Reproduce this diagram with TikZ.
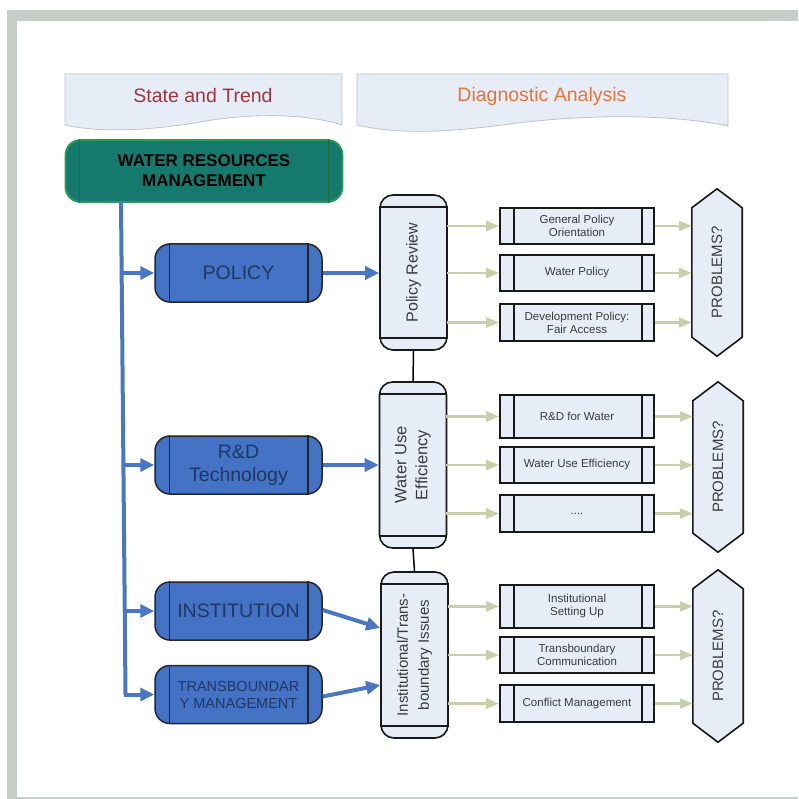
\documentclass[tikz,border=0pt]{standalone}
\usepackage{fontspec}
\setmainfont{Liberation Sans}
\usetikzlibrary{arrows.meta,calc}
\definecolor{pale}{HTML}{E7EDF7}
\definecolor{framegrey}{HTML}{C7CEC9}
\definecolor{hdrline}{HTML}{BFC3C8}
\definecolor{trendred}{HTML}{A0353D}
\definecolor{diagorange}{HTML}{E8733A}
\definecolor{teal}{HTML}{157A6D}
\definecolor{tealline}{HTML}{2A9A55}
\definecolor{tealinner}{HTML}{1E6B3F}
\definecolor{boxblue}{HTML}{4472C4}
\definecolor{navy}{HTML}{1F3864}
\definecolor{lineblue}{HTML}{4A77C3}
\definecolor{olive}{HTML}{C6D0AA}
\definecolor{txtgrey}{HTML}{3A3A3A}
\tikzset{
  hdr/.style={fill=pale, draw=hdrline, line width=0.8pt},
  wrmbox/.style={draw=tealline, fill=teal, line width=1.8pt, rounded corners=15pt,
    minimum width=277pt, minimum height=62pt, align=center,
    font=\fontsize{17}{20}\selectfont\bfseries, text=black},
  bluebox/.style={draw=black!85, fill=boxblue, line width=1.5pt, rounded corners=15pt,
    minimum width=167pt, minimum height=58pt, align=center, text=navy},
  vcyl/.style={draw=black!90, fill=pale, line width=1.6pt, rounded corners=13pt,
    minimum width=67pt},
  vtext/.style={rotate=90, align=center, text=txtgrey},
  mbox/.style={draw=black!90, fill=pale, line width=1.8pt, minimum width=154pt,
    align=center, text=txtgrey, font=\fontsize{11.5}{13}\selectfont},
  hexfr/.style={draw=none, minimum width=50pt, inner sep=0pt},
  hexshape/.style={draw=black!90, fill=pale, line width=1.6pt},
  hextext/.style={rotate=90, text=txtgrey, font=\fontsize{15}{17}\selectfont},
  inner/.style={line width=1.5pt},
  barrow/.style={draw=lineblue, line width=4pt, -{Triangle[length=14pt,width=13pt]}},
  bline/.style={draw=lineblue, line width=4pt},
  garrow/.style={draw=olive, line width=2.5pt, -{Triangle[length=13pt,width=10pt]}},
}
\begin{document}
\begin{tikzpicture}[x=1pt,y=-1pt]
\useasboundingbox (0,0) rectangle (798,799);
\fill[white] (0,0) rectangle (798,799);
% frame
\fill[framegrey] (7,10) rectangle (798,21);
\fill[framegrey] (7,10) rectangle (17,799);
\fill[framegrey] (7,797) rectangle (798,799);

% headers
\filldraw[hdr] (65,74) -- (342,74) -- (342,125) .. controls (300,112) and (245,114) .. (200,122)
  .. controls (160,129) and (105,134) .. (65,125) -- cycle;
\node[font=\fontsize{19.5}{22}\selectfont, text=trendred] (hst) at (203,96) {State and Trend};
\filldraw[hdr] (357,74) -- (728,74) -- (728,126) .. controls (660,112) and (570,116) .. (510,124)
  .. controls (450,132) and (400,135) .. (357,125) -- cycle;
\node[font=\fontsize{19.5}{22}\selectfont, text=diagorange] (hda) at (542,96) {Diagnostic Analysis};

% water resources management
\node[wrmbox] (wrm) at (204,171) {WATER RESOURCES\\MANAGEMENT};
\draw[tealinner, line width=1.5pt] ([xshift=15pt]wrm.north west) -- ([xshift=15pt]wrm.south west);
\draw[tealinner, line width=1.5pt] ([xshift=-15pt]wrm.north east) -- ([xshift=-15pt]wrm.south east);

% blue boxes
\node[bluebox, font=\fontsize{19.5}{23}\selectfont] (policy) at (238.5,273) {POLICY};
\node[bluebox, font=\fontsize{19.5}{23}\selectfont] (rd) at (238.5,465) {R\&D\\Technology};
\node[bluebox, font=\fontsize{19.5}{23}\selectfont] (inst) at (238.5,611) {INSTITUTION};
\node[bluebox, font=\fontsize{14.5}{17}\selectfont] (trans) at (238.5,694.5) {TRANSBOUNDAR\\Y MANAGEMENT};
\foreach \n in {policy,rd,inst,trans}{
  \draw[inner, black!85] ([xshift=15pt]\n.north west) -- ([xshift=15pt]\n.south west);
  \draw[inner, black!85] ([xshift=-15pt]\n.north east) -- ([xshift=-15pt]\n.south east);
}

% trunk and branches
\coordinate (t0) at (121,202);
\coordinate (t1) at (125.5,694.5);
\coordinate (b1) at (122,273);
\coordinate (b2) at (123.8,465);
\coordinate (b3) at (125,611);
\draw[bline] (t0) -- (t1);
\draw[barrow] (b1) -- (policy.west);
\draw[barrow] (b2) -- (rd.west);
\draw[barrow] (b3) -- (inst.west);
\draw[barrow] ([xshift=-2pt]t1) -- (trans.west);

% vertical cylinders
\node[vcyl, minimum height=155pt] (pr) at (413.5,272.5) {};
\node[vcyl, minimum height=166pt] (wue) at (413,465) {};
\node[vcyl, minimum height=166pt] (iti) at (414.5,655) {};
\foreach \n in {pr,wue,iti}{
  \draw[inner, black!90] ([yshift=-13pt]\n.north west) -- ([yshift=-13pt]\n.north east);
  \draw[inner, black!90] ([yshift=13pt]\n.south west) -- ([yshift=13pt]\n.south east);
}
\node[vtext, font=\fontsize{16}{20}\selectfont] (prt) at (pr.center) {Policy Review};
\node[vtext, font=\fontsize{16.5}{21}\selectfont] (wuet) at (wue.center) {Water Use\\Efficiency};
\node[vtext, font=\fontsize{15}{21}\selectfont] (itit) at (iti.center) {Institutional/Trans-\\boundary Issues};
\draw[line width=1.5pt] (pr.south) -- (wue.north);
\draw[line width=1.5pt] (wue.south) -- (iti.north);

% blue arrows to cylinders
\draw[barrow] (policy.east) -- (policy.east -| pr.west);
\draw[barrow] (rd.east) -- (rd.east -| wue.west);
\draw[barrow] ([yshift=1pt]inst.east) -- ([yshift=27pt]iti.west);
\draw[barrow] ([yshift=-2pt]trans.east) -- ([yshift=-30pt]iti.west);

% middle boxes
\node[mbox, minimum height=36pt] (b11) at (577,226) {General Policy\\Orientation};
\node[mbox, minimum height=36pt] (b12) at (577,273) {Water Policy};
\node[mbox, minimum height=37pt] (b13) at (577,322.5) {Development Policy:\\Fair Access};
\node[mbox, minimum height=43pt] (b21) at (577,416.5) {R\&D for Water};
\node[mbox, minimum height=36pt] (b22) at (577,465) {Water Use Efficiency};
\node[mbox, minimum height=37pt] (b23) at (577,513.5) {....};
\node[mbox, minimum height=43pt] (b31) at (577,606.5) {Institutional\\Setting Up};
\node[mbox, minimum height=36pt] (b32) at (577,655) {Transboundary\\Communication};
\node[mbox, minimum height=37pt] (b33) at (577,703.5) {Conflict Management};
\foreach \n in {b11,b12,b13,b21,b22,b23,b31,b32,b33}{
  \draw[inner, black!90] ([xshift=15pt]\n.north west) -- ([xshift=15pt]\n.south west);
  \draw[inner, black!90] ([xshift=-13pt]\n.north east) -- ([xshift=-13pt]\n.south east);
}

% hexagons
\node[hexfr, minimum height=167pt] (h1) at (717,272.5) {};
\node[hexfr, minimum height=170pt] (h2) at (718,467) {};
\node[hexfr, minimum height=172pt] (h3) at (718,656) {};
\foreach \n in {h1,h2,h3}{
  \filldraw[hexshape] (\n.north) -- ($(\n.north east)+(0,19)$) -- ($(\n.south east)+(0,-19)$)
    -- (\n.south) -- ($(\n.south west)+(0,-19)$) -- ($(\n.north west)+(0,19)$) -- cycle;
}
\node[hextext] (h1t) at (h1.center) {PROBLEMS?};
\node[hextext] (h2t) at (h2.center) {PROBLEMS?};
\node[hextext] (h3t) at (h3.center) {PROBLEMS?};

% green arrows
\foreach \b/\c/\h in {b11/pr/h1,b12/pr/h1,b13/pr/h1,b21/wue/h2,b22/wue/h2,b23/wue/h2,b31/iti/h3,b32/iti/h3,b33/iti/h3}{
  \draw[garrow] ([xshift=-1pt]\b.west -| \c.east) -- (\b.west);
  \draw[garrow] (\b.east) -- (\b.east -| \h.west);
}
\end{tikzpicture}
\end{document}
